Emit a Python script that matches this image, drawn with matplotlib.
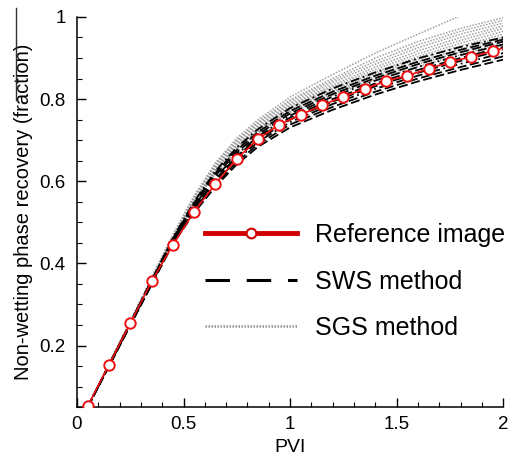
import matplotlib
matplotlib.use("Agg")
import matplotlib.pyplot as plt
from matplotlib.lines import Line2D

plt.rcParams['font.family'] = ['Liberation Sans', 'DejaVu Sans']

# reference recovery curve
pvi_ref = [0.05, 0.15, 0.25, 0.35, 0.45, 0.55, 0.65, 0.75, 0.85, 0.95,
           1.05, 1.15, 1.25, 1.35, 1.45, 1.55, 1.65, 1.75, 1.85, 1.95, 2.0]
rec_ref = [0.052, 0.153, 0.254, 0.356, 0.445, 0.526, 0.594, 0.655, 0.703, 0.738,
           0.762, 0.785, 0.806, 0.825, 0.844, 0.857, 0.874, 0.890, 0.903, 0.917, 0.924]
marker_every = list(range(20))

# realisation curves share one PVI grid
pvi_grid = [0.05, 0.45, 0.55, 0.65, 0.75, 0.85, 1.0, 1.2, 1.4, 1.6, 1.8, 2.0]

sws_runs = [
    [0.05, 0.462, 0.550, 0.625, 0.682, 0.727, 0.778, 0.826, 0.865, 0.899, 0.927, 0.950],
    [0.05, 0.460, 0.547, 0.620, 0.676, 0.720, 0.771, 0.818, 0.857, 0.891, 0.920, 0.945],
    [0.05, 0.458, 0.543, 0.614, 0.670, 0.714, 0.765, 0.812, 0.851, 0.885, 0.914, 0.940],
    [0.05, 0.456, 0.540, 0.609, 0.665, 0.709, 0.760, 0.806, 0.845, 0.878, 0.907, 0.933],
    [0.05, 0.455, 0.537, 0.605, 0.661, 0.705, 0.755, 0.800, 0.838, 0.871, 0.900, 0.927],
    [0.05, 0.453, 0.534, 0.601, 0.657, 0.701, 0.750, 0.794, 0.831, 0.864, 0.893, 0.920],
    [0.05, 0.451, 0.531, 0.597, 0.652, 0.696, 0.744, 0.788, 0.825, 0.857, 0.886, 0.912],
    [0.05, 0.449, 0.527, 0.592, 0.647, 0.690, 0.738, 0.781, 0.818, 0.850, 0.878, 0.904],
    [0.05, 0.447, 0.523, 0.587, 0.641, 0.684, 0.731, 0.774, 0.811, 0.843, 0.871, 0.896],
]

sgs_runs = [
    [0.05, 0.470, 0.565, 0.645, 0.705, 0.750, 0.805, 0.860, 0.912, 0.958, 1.003, 1.045],
    [0.05, 0.468, 0.562, 0.642, 0.700, 0.745, 0.798, 0.850, 0.900, 0.940, 0.972, 0.998],
    [0.05, 0.466, 0.560, 0.640, 0.698, 0.742, 0.795, 0.845, 0.892, 0.932, 0.965, 0.992],
    [0.05, 0.465, 0.558, 0.637, 0.694, 0.738, 0.790, 0.840, 0.885, 0.925, 0.958, 0.985],
    [0.05, 0.464, 0.556, 0.634, 0.690, 0.734, 0.786, 0.834, 0.878, 0.917, 0.950, 0.978],
    [0.05, 0.463, 0.555, 0.632, 0.688, 0.731, 0.783, 0.830, 0.872, 0.910, 0.943, 0.972],
    [0.05, 0.462, 0.553, 0.629, 0.685, 0.728, 0.780, 0.826, 0.866, 0.903, 0.936, 0.965],
    [0.05, 0.461, 0.551, 0.626, 0.682, 0.725, 0.777, 0.822, 0.861, 0.897, 0.929, 0.958],
    [0.05, 0.460, 0.549, 0.624, 0.679, 0.722, 0.774, 0.818, 0.856, 0.891, 0.922, 0.951],
    [0.05, 0.459, 0.547, 0.621, 0.676, 0.719, 0.771, 0.814, 0.851, 0.885, 0.915, 0.944],
    [0.05, 0.458, 0.545, 0.619, 0.673, 0.716, 0.768, 0.810, 0.847, 0.879, 0.908, 0.937],
]

x_ticks = [0, 0.5, 1, 1.5, 2]
x_ticklabels = ['0', '0.5', '1', '1.5', '2']
y_ticks = [0.2, 0.4, 0.6, 0.8, 1.0]
y_ticklabels = ['0.2', '0.4', '0.6', '0.8', '1']

fig = plt.figure(figsize=(5.13, 4.57), dpi=100)
ax = fig.add_axes([0.150, 0.109, 0.831, 0.854])

for run in sgs_runs:
    ax.plot(pvi_grid, run, color='#a0a0a0', lw=1.1, ls=(0, (1, 1)), zorder=2)
for i, run in enumerate(sws_runs):
    dash = (0, (5, 2)) if i % 3 else (0, (5, 2, 1, 2))
    ax.plot(pvi_grid, run, color='black', lw=1.3, ls=dash, zorder=3)
ax.plot(pvi_ref, rec_ref, color='#ee1111', lw=1.2, marker='o', ms=7.5,
        mfc='white', mec='#ee1111', mew=1.4, markevery=marker_every, zorder=4)

ax.set_xlim(0, 2)
ax.set_ylim(0.05, 1)
ax.set_xticks(x_ticks)
ax.set_xticklabels(x_ticklabels)
ax.set_yticks(y_ticks)
ax.set_yticklabels(y_ticklabels)
ax.set_xticks([i / 10 for i in range(21)], minor=True)
ax.set_yticks([0.05 * i for i in range(1, 21)], minor=True)
ax.tick_params(which='major', direction='in', length=6.5, width=1.0, labelsize=13.5, pad=6)
ax.tick_params(which='minor', direction='in', length=3.5, width=0.8)
ax.tick_params(axis='y', which='major', pad=8)
for side in ['top', 'right']:
    ax.spines[side].set_visible(False)
for side in ['left', 'bottom']:
    ax.spines[side].set_linewidth(1.1)

ax.set_xlabel('PVI', fontsize=14, labelpad=5)
ax.set_ylabel('Non-wetting phase recovery (fraction)', fontsize=14.5, labelpad=5)

handles = [
    Line2D([], [], color='#d00000', lw=3.5, marker='o', ms=7, mfc='white',
           mec='#d00000', mew=1.5),
    Line2D([], [], color='black', lw=2.2, ls=(0, (8, 5.5))),
    Line2D([], [], color='#909090', lw=1.8, ls=(0, (0.6, 0.6))),
]
ax.legend(handles, ['Reference image', 'SWS method', 'SGS method'],
          loc='upper left', bbox_to_anchor=(0.247, 0.529), frameon=False,
          fontsize=18, handlelength=3.68, handletextpad=0.72, labelspacing=0.9)

# stray rule at the left edge
fig.add_artist(Line2D([15.5 / 513, 15.5 / 513], [1 - 8 / 457, 1 - 100 / 457],
                      color='#303030', lw=1.0))

fig.savefig('out.png', dpi=100)
